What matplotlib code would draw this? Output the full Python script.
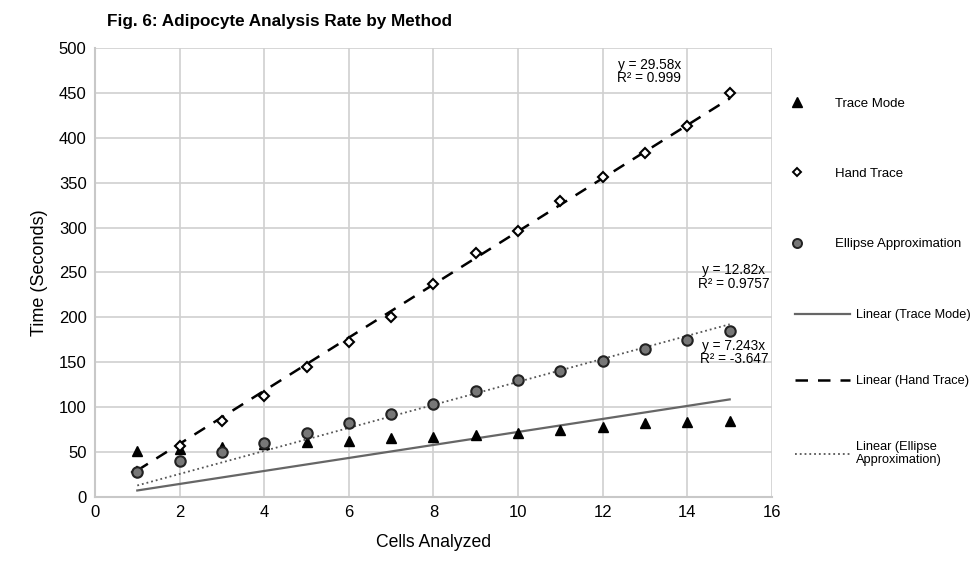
import matplotlib.pyplot as plt
import numpy as np
from matplotlib.lines import Line2D

plt.rcParams['font.family'] = ['Liberation Sans', 'DejaVu Sans']

cells = [1, 2, 3, 4, 5, 6, 7, 8, 9, 10, 11, 12, 13, 14, 15]
trace_mode = [51, 53, 56, 59, 61, 62, 66, 67, 69, 71, 75, 78, 82, 84, 85]
hand_trace = [28, 57, 85, 112, 145, 173, 200, 237, 272, 296, 330, 356, 383, 413, 450]
ellipse = [28, 40, 50, 60, 71, 82, 92, 103, 118, 130, 140, 151, 165, 175, 185]

# fitted slopes (linear, through origin) as printed on the chart
slope_trace, r2_trace = 7.243, -3.647
slope_hand, r2_hand = 29.58, 0.999
slope_ellipse, r2_ellipse = 12.82, 0.9757

fig = plt.figure(figsize=(9.76, 5.62), dpi=100)
ax = fig.add_axes([0.0973, 0.1157, 0.6937, 0.799])

x = np.array(cells)
ax.plot(x, slope_trace * x, '-', color='#666666', lw=1.6, zorder=2)
ax.plot(x, slope_hand * x, '--', color='black', lw=1.8, dashes=(5, 4), zorder=2)
ax.plot(x, slope_ellipse * x, ':', color='#555555', lw=1.3, zorder=2)

ax.plot(cells, trace_mode, '^', color='black', ms=7.5, ls='none', zorder=3)
ax.plot(cells, hand_trace, 'D', mfc='white', mec='black', mew=1.5, ms=5.5, ls='none', zorder=3)
ax.plot(cells, ellipse, 'o', mfc='#777777', mec='#222222', mew=1.5, ms=7.5, ls='none', zorder=3)

ax.text(13.1, 474, f"y = {slope_hand}x\nR² = {r2_hand}", ha='center', va='center',
        fontsize=9.8, linespacing=0.95)
ax.text(15.1, 245, f"y = {slope_ellipse}x\nR² = {r2_ellipse}", ha='center', va='center',
        fontsize=9.8, linespacing=0.95)
ax.text(15.1, 161, f"y = {slope_trace}x\nR² = {r2_trace}", ha='center', va='center',
        fontsize=9.8, linespacing=0.95)

ax.set_xlim(0, 16)
ax.set_ylim(0, 500)
ax.set_xticks(range(0, 17, 2))
ax.set_yticks(range(0, 501, 50))
ax.grid(True, color='#d0d0d0', lw=1.2)
ax.set_axisbelow(True)
for s in ['top', 'right']:
    ax.spines[s].set_visible(False)
for s in ['left', 'bottom']:
    ax.spines[s].set_color('#c8c8c8')
    ax.spines[s].set_linewidth(1.5)
ax.tick_params(length=0, labelsize=12, pad=6)
ax.set_xlabel("Cells Analyzed", fontsize=12.7, labelpad=10)
ax.set_ylabel("Time (Seconds)", fontsize=13, labelpad=8)

fig.text(0.11, 0.962, "Fig. 6: Adipocyte Analysis Rate by Method", fontsize=12.3,
         fontweight='bold', va='center')

# legend: markers
h1 = [Line2D([], [], marker='^', color='black', ls='none', ms=6.5),
      Line2D([], [], marker='D', mfc='white', mec='black', mew=1.4, ls='none', ms=4.5),
      Line2D([], [], marker='o', mfc='#777777', mec='#222222', mew=1.4, ls='none', ms=6.5)]
fig.legend(h1, ["Trace Mode", "Hand Trace", "Ellipse Approximation"],
           loc='upper left', bbox_to_anchor=(0.798, 0.848), frameon=False,
           fontsize=9.5, handlelength=1.0, handletextpad=2.35, labelspacing=4.4)
h2 = [Line2D([], [], color='#666666', lw=1.6),
      Line2D([], [], color='black', lw=1.8, ls='--', dashes=(5, 4)),
      Line2D([], [], color='#555555', lw=1.3, ls=':')]
fig.legend(h2, ["Linear (Trace Mode)", "Linear (Hand Trace)", "Linear (Ellipse\nApproximation)"],
           loc='upper left', bbox_to_anchor=(0.803, 0.470), frameon=False,
           fontsize=9.2, handlelength=4.3, handletextpad=0.45, labelspacing=4.2)

fig.savefig("out.png", dpi=100)
